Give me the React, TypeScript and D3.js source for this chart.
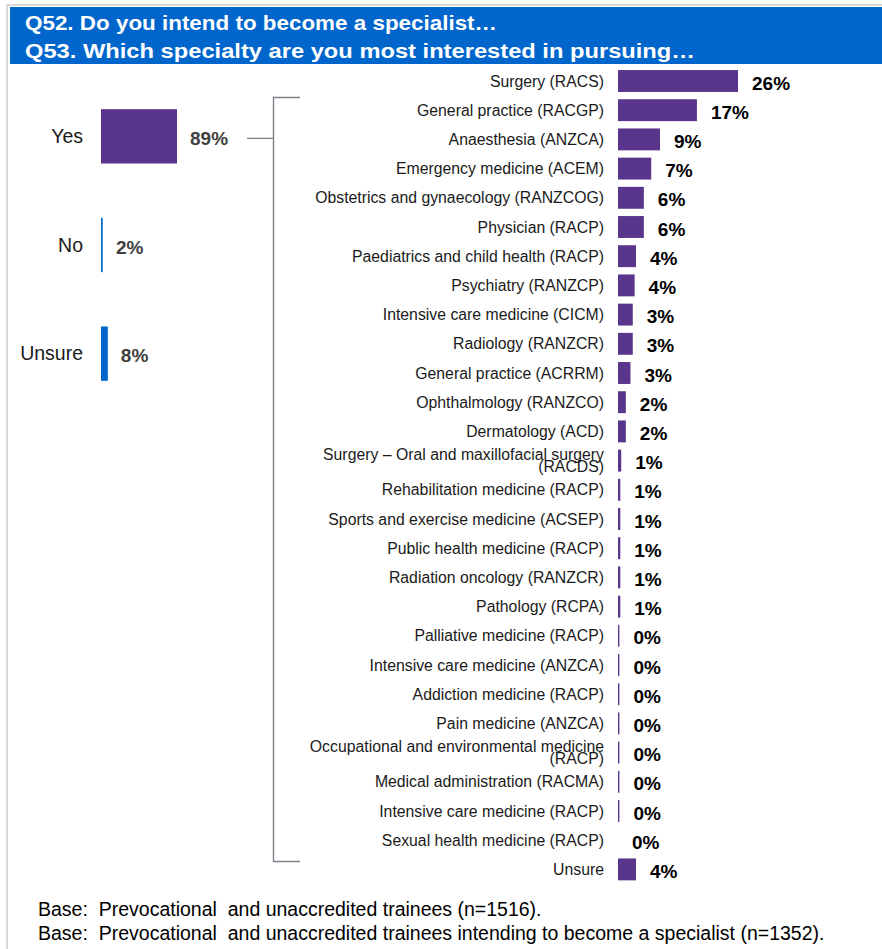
import * as d3 from 'd3';
import {useEffect, useRef} from 'react';

// Q52 answers
const intendCategories = ['Yes', 'No', 'Unsure'];
const intendValues = [89, 2, 8];

// Q53 specialties (line breaks mark wrapped labels)
const specialtyCategories = [
	'Surgery (RACS)',
	'General practice (RACGP)',
	'Anaesthesia (ANZCA)',
	'Emergency medicine (ACEM)',
	'Obstetrics and gynaecology (RANZCOG)',
	'Physician (RACP)',
	'Paediatrics and child health (RACP)',
	'Psychiatry (RANZCP)',
	'Intensive care medicine (CICM)',
	'Radiology (RANZCR)',
	'General practice (ACRRM)',
	'Ophthalmology (RANZCO)',
	'Dermatology (ACD)',
	'Surgery – Oral and maxillofacial surgery\n(RACDS)',
	'Rehabilitation medicine (RACP)',
	'Sports and exercise medicine (ACSEP)',
	'Public health medicine (RACP)',
	'Radiation oncology (RANZCR)',
	'Pathology (RCPA)',
	'Palliative medicine (RACP)',
	'Intensive care medicine (ANZCA)',
	'Addiction medicine (RACP)',
	'Pain medicine (ANZCA)',
	'Occupational and environmental medicine\n(RACP)',
	'Medical administration (RACMA)',
	'Intensive care medicine (RACP)',
	'Sexual health medicine (RACP)',
	'Unsure',
];
const specialtyValues = [
	26.0, 17.1, 9.1, 7.2, 5.6, 5.6, 3.9, 3.6, 3.2, 3.2, 2.7, 1.7, 1.7, 0.7, 0.5, 0.5, 0.5, 0.5,
	0.5, 0.3, 0.3, 0.3, 0.3, 0.3, 0.3, 0.3, 0, 3.9,
];

const titleLines = [
	'Q52. Do you intend to become a specialist…',
	'Q53. Which specialty are you most interested in pursuing…',
];
const baseNotes = [
	'Base:  Prevocational  and unaccredited trainees (n=1516).',
	'Base:  Prevocational  and unaccredited trainees intending to become a specialist (n=1352).',
];

const width = 882;
const height = 949;
const purple = '#5a358c';
const blue = '#0066cc';
const font = '"Liberation Sans", Arial, sans-serif';

export default function App() {
	const svgRef = useRef<SVGSVGElement>(null);

	useEffect(() => {
		const svg = d3.select(svgRef.current).attr('width', width).attr('height', height);
		svg.selectAll('*').remove();

		svg.append('rect').attr('width', width).attr('height', height).attr('fill', '#fff');

		// frame
		svg.append('line').attr('x1', 7).attr('x2', 7).attr('y1', 4).attr('y2', height).attr('stroke', '#d9d9d9').attr('stroke-width', 2);
		svg.append('line').attr('x1', 6).attr('x2', width).attr('y1', 5).attr('y2', 5).attr('stroke', '#d9d9d9').attr('stroke-width', 2);

		// title
		const titleWidths = [472, 670];
		svg.append('rect').attr('x', 10).attr('y', 7).attr('width', width - 10).attr('height', 57).attr('fill', blue);
		svg
			.selectAll('.title')
			.data(titleLines)
			.join('text')
			.attr('class', 'title')
			.attr('x', 25)
			.attr('y', (_, i) => 30 + i * 28)
			.attr('textLength', (_, i) => titleWidths[i])
			.attr('lengthAdjust', 'spacingAndGlyphs')
			.attr('fill', '#fff')
			.style('font-family', font)
			.style('font-size', '21px')
			.style('font-weight', 'bold')
			.text((d) => d);

		// Q52 panel
		const yLeft = d3.scaleBand().domain(intendCategories).range([82, 408]).paddingInner(0.5).paddingOuter(0.25);
		const xLeft = d3.scaleLinear().domain([0, 89]).range([101, 177]);
		const left = svg.append('g');

		left
			.selectAll('rect')
			.data(intendCategories)
			.join('rect')
			.attr('x', xLeft(0))
			.attr('y', (d) => yLeft(d)!)
			.attr('width', (_, i) => Math.max(1.5, xLeft(intendValues[i]) - xLeft(0)))
			.attr('height', yLeft.bandwidth())
			.attr('fill', (d) => (d === 'Yes' ? purple : blue));

		left
			.selectAll('.cat')
			.data(intendCategories)
			.join('text')
			.attr('class', 'cat')
			.attr('x', 83)
			.attr('y', (d) => yLeft(d)! + yLeft.bandwidth() / 2)
			.attr('dy', '0.35em')
			.attr('text-anchor', 'end')
			.attr('fill', '#1a1a1a')
			.style('font-family', font)
			.style('font-size', '19.5px')
			.text((d) => d);

		left
			.selectAll('.val')
			.data(intendCategories)
			.join('text')
			.attr('class', 'val')
			.attr('x', (_, i) => Math.max(xLeft(intendValues[i]), xLeft(0) + 2) + 13)
			.attr('y', (d) => yLeft(d)! + yLeft.bandwidth() / 2 + 2)
			.attr('dy', '0.35em')
			.attr('fill', '#404040')
			.style('font-family', font)
			.style('font-size', '19px')
			.style('font-weight', 'bold')
			.text((_, i) => `${intendValues[i]}%`);

		// bracket
		const yYes = yLeft('Yes')! + yLeft.bandwidth() / 2 + 2;
		const bracket = d3.path();
		bracket.moveTo(247, yYes);
		bracket.lineTo(273.5, yYes);
		bracket.moveTo(300, 97.5);
		bracket.lineTo(273.5, 97.5);
		bracket.lineTo(273.5, 861.5);
		bracket.lineTo(300, 861.5);
		svg.append('path').attr('d', bracket.toString()).attr('fill', 'none').attr('stroke', '#80808a').attr('stroke-width', 1.4);

		// Q53 panel
		const yRight = d3.scaleBand().domain(specialtyCategories).range([66.4, 884]).paddingInner(0.25).paddingOuter(0.125);
		const xRight = d3.scaleLinear().domain([0, 26]).range([618, 738]);
		const right = svg.append('g');

		right
			.selectAll('rect')
			.data(specialtyCategories)
			.join('rect')
			.attr('x', xRight(0))
			.attr('y', (d) => yRight(d)!)
			.attr('width', (_, i) => xRight(specialtyValues[i]) - xRight(0))
			.attr('height', yRight.bandwidth())
			.attr('fill', purple);

		right
			.selectAll('.cat')
			.data(specialtyCategories)
			.join('text')
			.attr('class', 'cat')
			.attr('text-anchor', 'end')
			.attr('fill', '#1a1a1a')
			.style('font-family', font)
			.style('font-size', '15.8px')
			.each(function (d) {
				const lines = d.split('\n');
				const cy = yRight(d)! + yRight.bandwidth() / 2;
				d3.select(this)
					.selectAll('tspan')
					.data(lines)
					.join('tspan')
					.attr('x', 604)
					.attr('y', (_, j) => cy + (j - (lines.length - 1) / 2) * 12.5)
					.attr('dy', '0.35em')
					.text((l) => l);
			});

		right
			.selectAll('.val')
			.data(specialtyCategories)
			.join('text')
			.attr('class', 'val')
			.attr('x', (_, i) => xRight(specialtyValues[i]) + 14)
			.attr('y', (d) => yRight(d)! + yRight.bandwidth() / 2 + 2)
			.attr('dy', '0.35em')
			.attr('fill', '#000')
			.style('font-family', font)
			.style('font-size', '19px')
			.style('font-weight', 'bold')
			.text((_, i) => `${Math.round(specialtyValues[i])}%`);

		// base notes
		svg
			.selectAll('.note')
			.data(baseNotes)
			.join('text')
			.attr('class', 'note')
			.attr('x', 38)
			.attr('y', (_, i) => 916 + i * 24)
			.attr('fill', '#000')
			.style('font-family', font)
			.style('font-size', '19.5px')
			.style('white-space', 'pre')
			.text((d) => d);
	}, []);

	return (
		<div style={{position: 'absolute', left: 0, top: 0}}>
			<svg ref={svgRef} style={{display: 'block'}} />
		</div>
	);
}
